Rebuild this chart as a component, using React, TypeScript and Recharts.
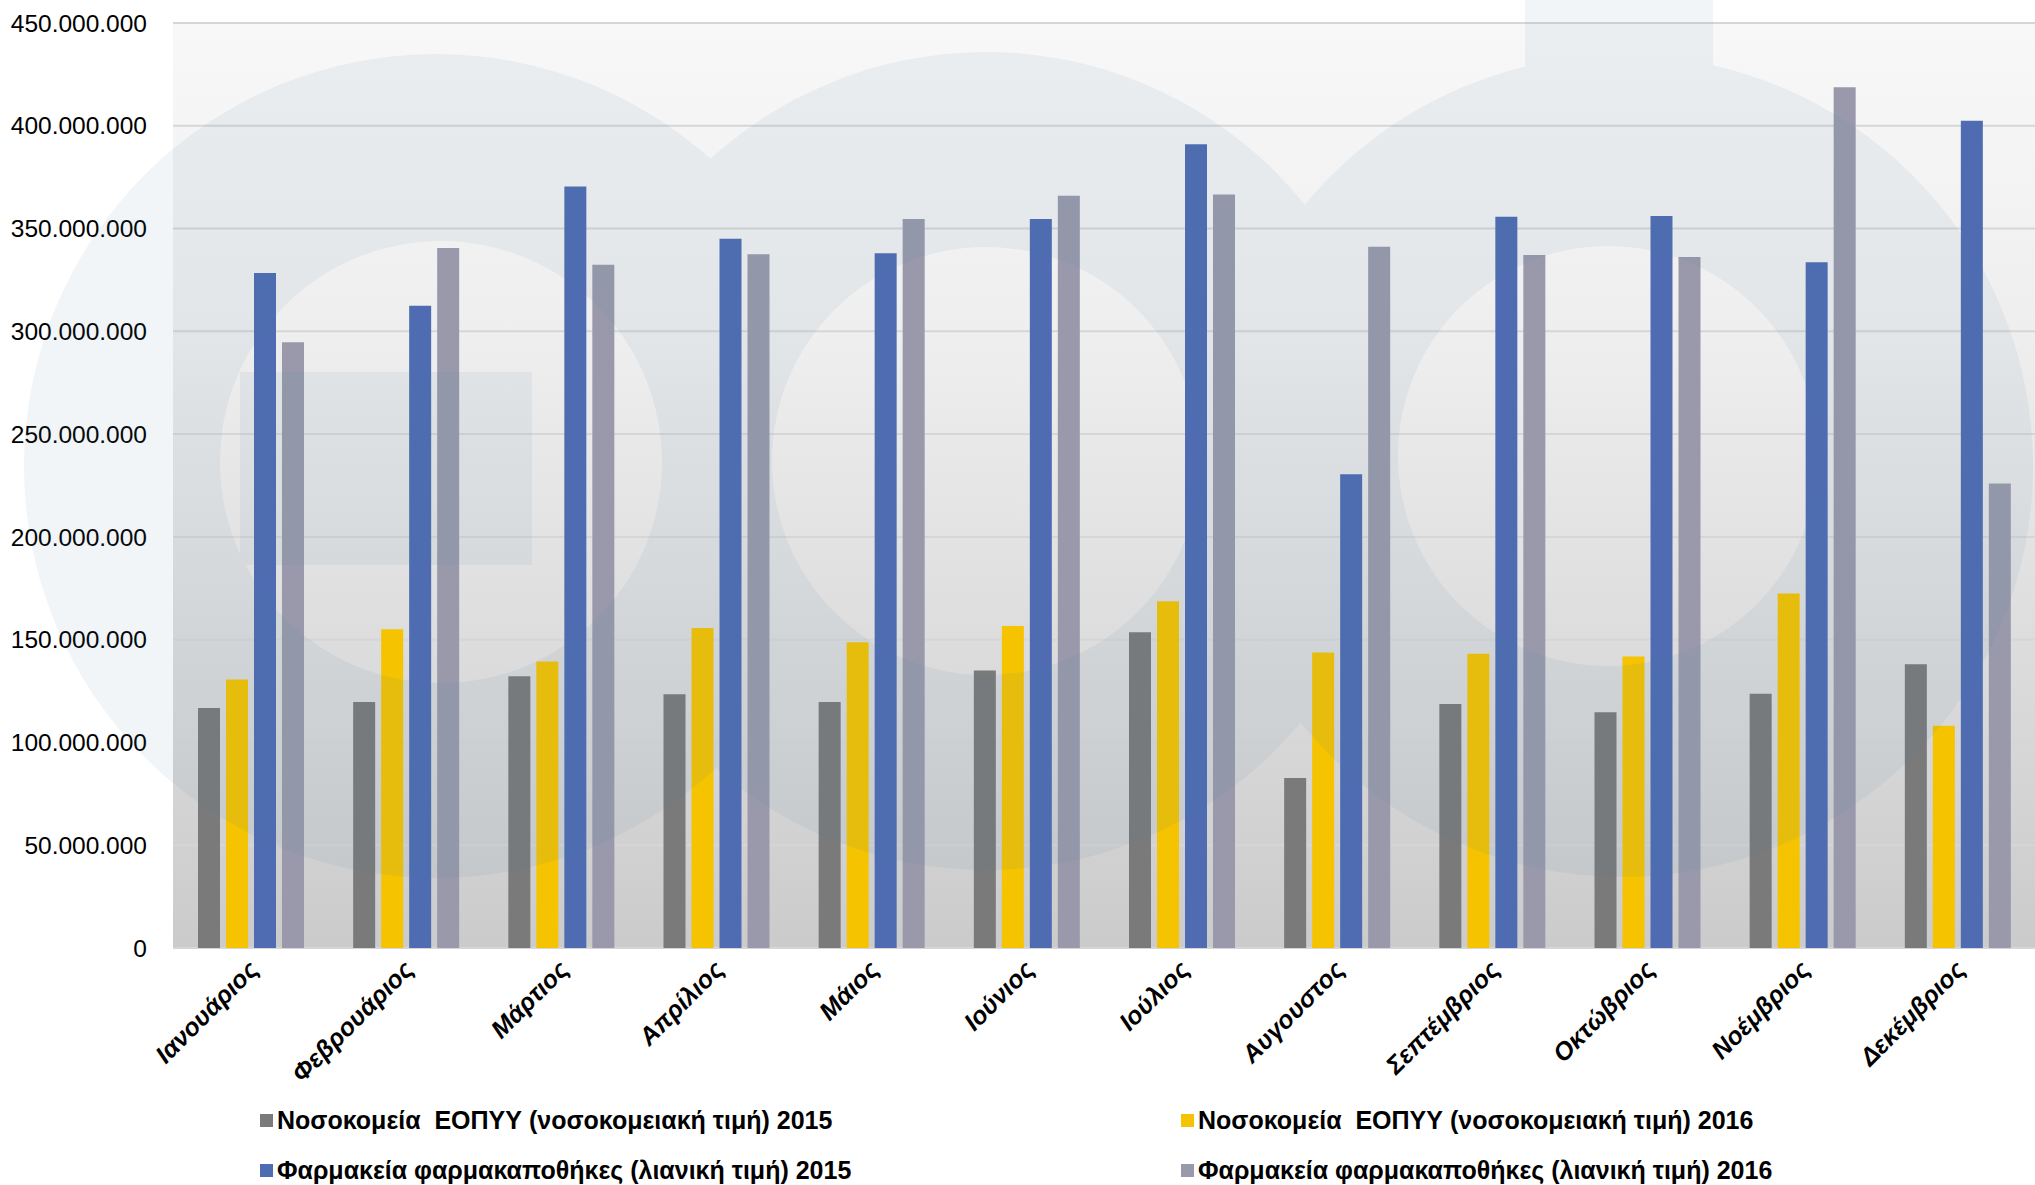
import React from 'react';
import { BarChart, Bar, XAxis, YAxis, CartesianGrid } from 'recharts';

const months = [
  'Ιανουάριος', 'Φεβρουάριος', 'Μάρτιος', 'Απρίλιος', 'Μάιος', 'Ιούνιος',
  'Ιούλιος', 'Αυγουστος', 'Σεπτέμβριος', 'Οκτώβριος', 'Νοέμβριος', 'Δεκέμβριος',
];

// values in millions of euro
const hosp2015 = [116.8, 119.7, 132.2, 123.5, 119.7, 135, 153.6, 82.7, 118.7, 114.7, 123.7, 138.1];
const hosp2016 = [130.6, 155.1, 139.4, 155.7, 148.7, 156.7, 168.7, 143.7, 143.1, 141.8, 172.5, 108.1];
const pharm2015 = [328.4, 312.4, 370.4, 345, 338, 354.6, 391, 230.5, 355.8, 356.1, 333.6, 402.5];
const pharm2016 = [294.7, 340.5, 332.4, 337.5, 354.6, 366, 366.6, 341.2, 337.1, 336.2, 418.7, 226];

const yTicks = [0, 50, 100, 150, 200, 250, 300, 350, 400, 450].map((v) => v * 1e6);

const seriesNames = [
  'Νοσοκομεία  ΕΟΠΥΥ (νοσοκομειακή τιμή) 2015',
  'Νοσοκομεία  ΕΟΠΥΥ (νοσοκομειακή τιμή) 2016',
  'Φαρμακεία φαρμακαποθήκες (λιανική τιμή) 2015',
  'Φαρμακεία φαρμακαποθήκες (λιανική τιμή) 2016',
];
const seriesColors = ['#7a7a7a', '#f5c300', '#4f6cb2', '#9999ab'];

const data = months.map((m, i) => ({
  month: m,
  h15: hosp2015[i] * 1e6,
  h16: hosp2016[i] * 1e6,
  p15: pharm2015[i] * 1e6,
  p16: pharm2016[i] * 1e6,
}));
const keys = ['h15', 'h16', 'p15', 'p16'];

const W = 2035;
const H = 1185;
const FONT = '"Liberation Sans", Arial, sans-serif';

const fmt = (v: number) => Math.round(v).toString().replace(/\B(?=(\d{3})+(?!\d))/g, '.');

const MonthTick = (props: any) => {
  const { x, y, payload } = props;
  return (
    <g transform={`translate(${x + 9},${y + 23})`}>
      <text
        x={0}
        y={0}
        textAnchor="end"
        transform="rotate(-45)"
        fontFamily={FONT}
        fontSize={25}
        fontWeight="bold"
        fontStyle="italic"
        fill="#000"
      >
        {payload.value}
      </text>
    </g>
  );
};

// faint logo watermark drawn over the chart
const Watermark = () => (
  <svg width={W} height={H} style={{ position: 'absolute', left: 0, top: 0, pointerEvents: 'none' }}>
    <defs>
      <mask id="wm">
        <rect x={0} y={0} width={W} height={H} fill="black" />
        <circle cx={436} cy={466} r={412} fill="white" />
        <circle cx={986} cy={461} r={409} fill="white" />
        <circle cx={1622} cy={466} r={411} fill="white" />
        <rect x={1525} y={0} width={188} height={90} fill="white" />
        <circle cx={441} cy={462} r={221} fill="black" />
        <circle cx={986} cy={461} r={214} fill="black" />
        <circle cx={1608} cy={456} r={210} fill="black" />
        <rect x={240} y={372} width={292} height={193} fill="white" />
      </mask>
    </defs>
    <rect x={0} y={0} width={W} height={H} fill="rgb(72,122,160)" fillOpacity={0.08} mask="url(#wm)" />
  </svg>
);

const Legend2 = () => (
  <div style={{ position: 'absolute', left: 0, top: 0, width: W, height: H, pointerEvents: 'none' }}>
    {seriesNames.map((name, i) => {
      const col = i % 2;
      const row = Math.floor(i / 2);
      return (
        <div
          key={name}
          style={{
            position: 'absolute',
            left: col === 0 ? 260 : 1181,
            top: (row === 0 ? 1120 : 1170) - 15,
            height: 30,
            display: 'flex',
            alignItems: 'center',
            fontFamily: FONT,
            fontWeight: 'bold',
            fontSize: 25,
            color: '#000',
            whiteSpace: 'pre',
          }}
        >
          <span style={{ width: 13, height: 13, background: seriesColors[i], marginRight: 4, display: 'inline-block' }} />
          {name}
        </div>
      );
    })}
  </div>
);

export default function App() {
  return (
    <div style={{ position: 'relative', width: W, height: H, background: '#fff' }}>
      <style>{`body{margin:0}`}</style>
      <BarChart
        width={W}
        height={H}
        data={data}
        margin={{ top: 23, right: 0, left: 0, bottom: 0 }}
        barSize={22}
        barGap={6}
      >
        <defs>
          <linearGradient id="plotBg" x1="0" y1="0" x2="0" y2="1">
            <stop offset="0%" stopColor="#f8f8f8" />
            <stop offset="35%" stopColor="#eeeeee" />
            <stop offset="100%" stopColor="#cbcbcb" />
          </linearGradient>
        </defs>
        <CartesianGrid vertical={false} stroke="#d6d6d6" strokeWidth={2} fill="url(#plotBg)" fillOpacity={1} />
        <XAxis
          dataKey="month"
          height={237}
          tickLine={false}
          axisLine={false}
          tickSize={0}
          tickMargin={0}
          interval={0}
          tick={<MonthTick />}
        />
        <YAxis
          width={173}
          domain={[0, 450e6]}
          ticks={yTicks}
          tickFormatter={fmt}
          tickLine={false}
          axisLine={false}
          tickSize={0}
          tickMargin={26}
          tick={{ fontFamily: FONT, fontSize: 24.5, fill: '#000' }}
        />
        {keys.map((k, i) => (
          <Bar key={k} dataKey={k} name={seriesNames[i]} fill={seriesColors[i]} isAnimationActive={false} />
        ))}
      </BarChart>
      <Watermark />
      <Legend2 />
    </div>
  );
}
